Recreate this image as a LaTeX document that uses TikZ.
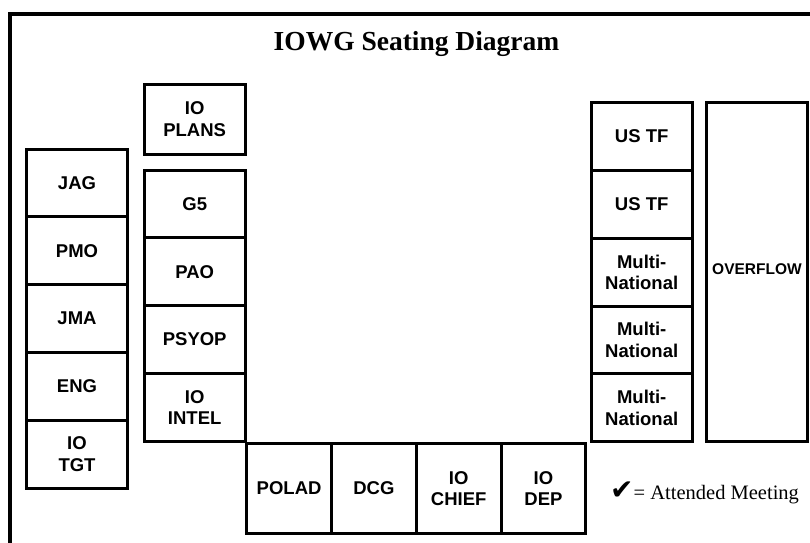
\documentclass[tikz,border=0pt]{standalone}
\usepackage{fontspec}
\setmainfont{Liberation Serif}
\setsansfont{Liberation Sans}
\newfontfamily\checkfont{DejaVu Sans}
\usetikzlibrary{positioning}

\begin{document}
\begin{tikzpicture}[x=1pt,y=-1pt,font=\sffamily\bfseries\fontsize{18.5}{21.5}\selectfont,
 node distance=0pt,
 seat/.style={draw,line width=3pt,outer sep=0pt,inner sep=1pt,align=center,
  minimum width=101pt,minimum height=67.8pt},
 wide/.style={seat,minimum width=84.8pt,minimum height=90.4pt}]
\useasboundingbox (0,0) rectangle (810,542);
\clip (0,0) rectangle (810,542);
\draw[line width=3.2pt] (10,14) rectangle (840,580);
\node[font=\rmfamily\bfseries\fontsize{27.5}{30}\selectfont,anchor=base] (title) at (416.5,50) {IOWG Seating Diagram};
% left column
\node[seat] (jag) at (77,182.9) {JAG};
\node[seat,below=of jag] (pmo) {PMO};
\node[seat,below=of pmo] (jma) {JMA};
\node[seat,below=of jma] (eng) {ENG};
\node[seat,below=of eng] (iotgt) {IO\\TGT};
% middle column
\node[seat,minimum height=69.7pt] (ioplans) at (194.7,119.2) {IO\\PLANS};
\node[seat,anchor=north] (gfive) at (194.7,170) {G5};
\node[seat,below=of gfive] (pao) {PAO};
\node[seat,below=of pao] (psyop) {PSYOP};
\node[seat,below=of psyop] (iointel) {IO\\INTEL};
% bottom row
\node[wide,anchor=north west] (polad) at (246.7,443.3) {POLAD};
\node[wide,right=of polad] (dcg) {DCG};
\node[wide,right=of dcg] (iochief) {IO\\CHIEF};
\node[wide,right=of iochief] (iodep) {IO\\DEP};
% right column
\node[seat,anchor=north] (ustfa) at (641.7,102.7) {US TF};
\node[seat,below=of ustfa] (ustfb) {US TF};
\node[seat,below=of ustfb] (multia) {Multi-\\National};
\node[seat,below=of multia] (multib) {Multi-\\National};
\node[seat,below=of multib] (multic) {Multi-\\National};
\node[seat,anchor=north,minimum height=339pt,font=\sffamily\bfseries\fontsize{15.5}{18}\selectfont] (overflow) at (757,102.7) {\raisebox{7pt}{OVERFLOW}};
% legend
\node[anchor=base west,inner sep=0pt,font=\rmfamily\fontsize{20.5}{24}\selectfont] (legend) at (610,499) {{\checkfont\fontsize{28}{28}\selectfont ✔}= Attended Meeting};
\end{tikzpicture}
\end{document}
